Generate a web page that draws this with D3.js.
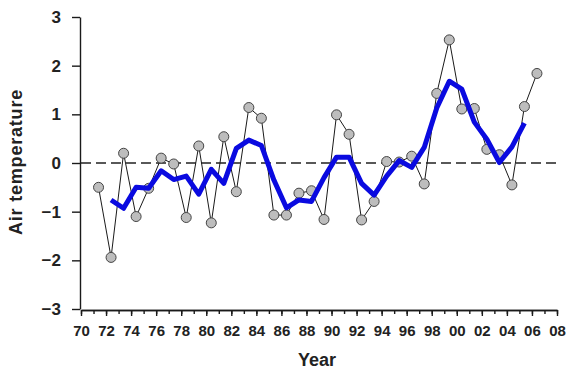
<!DOCTYPE html>
<html>
<head>
<meta charset="utf-8">
<script src="https://cdn.jsdelivr.net/npm/d3@7"></script>
<style>
  body { margin: 0; background: #fff; }
  svg { display: block; }
  text { font-family: "Liberation Sans", Arial, sans-serif; font-weight: bold; fill: #222; }
</style>
</head>
<body>
<svg id="chart" width="566" height="372"></svg>
<script>
// Annual air temperature anomaly (observation time as fractional year)
const obsYears = [1971.4, 1972.4, 1973.4, 1974.4, 1975.4, 1976.4, 1977.4, 1978.4, 1979.4,
  1980.4, 1981.4, 1982.4, 1983.4, 1984.4, 1985.4, 1986.4, 1987.4, 1988.4, 1989.4,
  1990.4, 1991.4, 1992.4, 1993.4, 1994.4, 1995.4, 1996.4, 1997.4, 1998.4, 1999.4,
  2000.4, 2001.4, 2002.4, 2003.4, 2004.4, 2005.4, 2006.4];
const airTemp = [-0.50, -1.94, 0.20, -1.10, -0.52, 0.10, -0.02, -1.12, 0.35,
  -1.23, 0.54, -0.59, 1.14, 0.92, -1.07, -1.07, -0.62, -0.57, -1.16,
  0.99, 0.59, -1.17, -0.79, 0.03, 0.02, 0.14, -0.43, 1.43, 2.53,
  1.11, 1.12, 0.28, 0.17, -0.45, 1.16, 1.84];

// Running-mean curve
const smoothYears = [1972.4, 1973.4, 1974.4, 1975.4, 1976.4, 1977.4, 1978.4, 1979.4,
  1980.4, 1981.4, 1982.4, 1983.4, 1984.4, 1985.4, 1986.4, 1987.4, 1988.4, 1989.4,
  1990.4, 1991.4, 1992.4, 1993.4, 1994.4, 1995.4, 1996.4, 1997.4, 1998.4, 1999.4,
  2000.4, 2001.4, 2002.4, 2003.4, 2004.4, 2005.4];
const smoothTemp = [-0.76, -0.93, -0.50, -0.52, -0.16, -0.34, -0.27, -0.64,
  -0.13, -0.42, 0.30, 0.47, 0.36, -0.35, -0.92, -0.76, -0.79, -0.30,
  0.12, 0.12, -0.42, -0.66, -0.27, 0.05, -0.09, 0.32, 1.13, 1.68,
  1.52, 0.84, 0.49, 0.01, 0.33, 0.82];

// Axis ticks
const yTicks = [-3, -2, -1, 0, 1, 2, 3];
const xMajorTicks = d3.range(1970, 2009, 2);
const xMinorTicks = d3.range(1970, 2009, 1);

const svg = d3.select("#chart");
const x = d3.scaleLinear().domain([1970, 2008]).range([81, 557]);
const y = d3.scaleLinear().domain([-3, 3]).range([309, 17]);

// zero reference line
svg.append("line")
  .attr("x1", x(1970)).attr("x2", x(2008))
  .attr("y1", y(0)).attr("y2", y(0))
  .attr("stroke", "#222").attr("stroke-width", 1.3)
  .attr("stroke-dasharray", "10,5");

// y axis
const yAxis = svg.append("g")
  .attr("transform", `translate(${x(1970) - 1},0)`)
  .call(d3.axisLeft(y).tickValues(yTicks).tickSize(8).tickSizeOuter(0).tickPadding(11)
    .tickFormat(d3.format("d")));
yAxis.selectAll("text").style("font-size", "17px");

// x axis: minor ticks, then labelled major ticks
svg.append("g")
  .attr("transform", `translate(0,${y(-3) + 1})`)
  .call(d3.axisBottom(x).tickValues(xMinorTicks).tickSize(4).tickSizeOuter(0).tickFormat(""));
const xAxis = svg.append("g")
  .attr("transform", `translate(0,${y(-3) + 1})`)
  .call(d3.axisBottom(x).tickValues(xMajorTicks).tickSize(6).tickSizeOuter(0).tickPadding(9)
    .tickFormat(d => String(d % 100).padStart(2, "0")));
xAxis.selectAll("text").style("font-size", "15px");

svg.selectAll(".domain, .tick line").attr("stroke", "#1a1a1a").attr("stroke-width", 1.4);

// observed series: thin connecting line and grey markers
const obs = obsYears.map((t, i) => [t, airTemp[i]]);
svg.append("path")
  .datum(obs)
  .attr("fill", "none").attr("stroke", "#1a1a1a").attr("stroke-width", 1)
  .attr("d", d3.line().x(d => x(d[0])).y(d => y(d[1])));
svg.append("g").selectAll("circle")
  .data(obs).join("circle")
  .attr("cx", d => x(d[0])).attr("cy", d => y(d[1])).attr("r", 5)
  .attr("fill", "#bdbdbd").attr("stroke", "#444").attr("stroke-width", 1);

// smoothed curve
const smooth = smoothYears.map((t, i) => [t, smoothTemp[i]]);
svg.append("path")
  .datum(smooth)
  .attr("fill", "none").attr("stroke", "#0a0ae0").attr("stroke-width", 5)
  .attr("stroke-linejoin", "round").attr("stroke-linecap", "butt")
  .attr("d", d3.line().x(d => x(d[0])).y(d => y(d[1])));

// axis titles
svg.append("text")
  .attr("x", 317).attr("y", 366)
  .attr("text-anchor", "middle").style("font-size", "18px")
  .text("Year");
svg.append("text")
  .attr("transform", "translate(22,162) rotate(-90)")
  .attr("text-anchor", "middle").style("font-size", "18px").style("letter-spacing", "0.8px")
  .text("Air temperature");
</script>
</body>
</html>
